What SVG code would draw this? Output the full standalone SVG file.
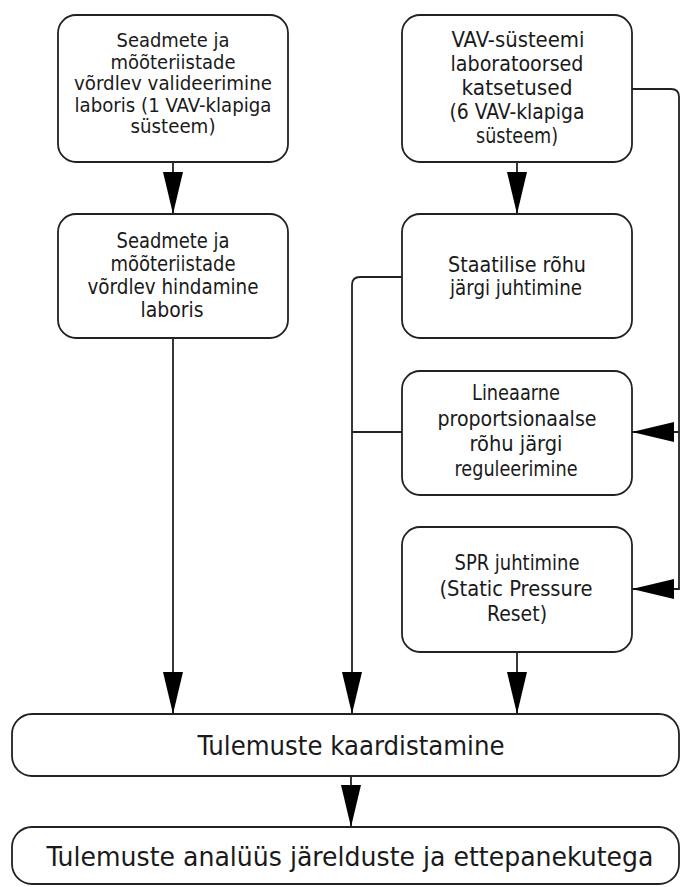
<svg xmlns="http://www.w3.org/2000/svg" width="681" height="887" viewBox="0 0 681 887">
  <style>
    .box { fill: #ffffff; stroke: #222222; stroke-width: 1.8; }
    .lbl { font-family: "DejaVu Sans Condensed", "DejaVu Sans", sans-serif; font-stretch: condensed; font-size: 21px; fill: #1a1a1a; text-anchor: middle; }
    .tight { font-size: 19px; }
    .big { font-size: 27px; }
    .wire { fill: none; stroke: #222222; stroke-width: 1.8; }
  </style>
  <defs>
    <marker id="head" markerUnits="userSpaceOnUse" viewBox="0 0 42 20" markerWidth="42" markerHeight="20" refX="42" refY="10" orient="auto">
      <path d="M0,0 L42,10 L0,20 Z" fill="#000000"/>
    </marker>
  </defs>
  <rect width="681" height="887" fill="#ffffff"/>

  <!-- connectors -->
  <g id="connectors">
    <path class="wire" d="M173,162 V214" marker-end="url(#head)"/>
    <path class="wire" d="M517,162 V214" marker-end="url(#head)"/>
    <path class="wire" d="M173,338 V714" marker-end="url(#head)"/>
    <path class="wire" d="M402,277 H360 Q352,277 352,285 V714" marker-end="url(#head)"/>
    <path class="wire" d="M402,432 H352"/>
    <path class="wire" d="M517,652 V714" marker-end="url(#head)"/>
    <path class="wire" d="M632,89 H671 Q679,89 679,97 V589 H632" marker-end="url(#head)"/>
    <path class="wire" d="M679,432 H632" marker-end="url(#head)"/>
    <path class="wire" d="M351,776 V827" marker-end="url(#head)"/>
  </g>

  <!-- left column -->
  <g id="validation">
    <rect class="box" x="58" y="15" width="230" height="147" rx="18"/>
    <text class="lbl tight" x="173" y="47" textLength="113" lengthAdjust="spacingAndGlyphs">Seadmete ja</text>
    <text class="lbl tight" x="173" y="68.5" textLength="125" lengthAdjust="spacingAndGlyphs">mõõteriistade</text>
    <text class="lbl tight" x="173" y="90" textLength="198" lengthAdjust="spacingAndGlyphs">võrdlev  valideerimine</text>
    <text class="lbl tight" x="173" y="111.5" textLength="197" lengthAdjust="spacingAndGlyphs">laboris (1 VAV-klapiga</text>
    <text class="lbl tight" x="173" y="133" textLength="85" lengthAdjust="spacingAndGlyphs">süsteem)</text>
  </g>
  <g id="assessment">
    <rect class="box" x="58" y="214" width="230" height="124" rx="18"/>
    <text class="lbl" x="173" y="248" textLength="113" lengthAdjust="spacingAndGlyphs">Seadmete ja</text>
    <text class="lbl" x="173" y="271" textLength="125" lengthAdjust="spacingAndGlyphs">mõõteriistade</text>
    <text class="lbl" x="173" y="294" textLength="171" lengthAdjust="spacingAndGlyphs">võrdlev hindamine</text>
    <text class="lbl" x="172" y="317" textLength="63" lengthAdjust="spacingAndGlyphs">laboris</text>
  </g>

  <!-- right column -->
  <g id="vav-tests">
    <rect class="box" x="402" y="15" width="230" height="147" rx="18"/>
    <text class="lbl" x="518" y="47" textLength="133" lengthAdjust="spacingAndGlyphs">VAV-süsteemi</text>
    <text class="lbl" x="517" y="71" textLength="133" lengthAdjust="spacingAndGlyphs">laboratoorsed</text>
    <text class="lbl" x="517" y="95" textLength="111" lengthAdjust="spacingAndGlyphs">katsetused</text>
    <text class="lbl" x="517" y="119" textLength="135" lengthAdjust="spacingAndGlyphs">(6 VAV-klapiga</text>
    <text class="lbl" x="517" y="143" textLength="82" lengthAdjust="spacingAndGlyphs">süsteem)</text>
  </g>
  <g id="static-pressure">
    <rect class="box" x="402" y="214" width="230" height="124" rx="18"/>
    <text class="lbl" x="517" y="272" textLength="138" lengthAdjust="spacingAndGlyphs">Staatilise rõhu</text>
    <text class="lbl" x="516" y="295" textLength="132" lengthAdjust="spacingAndGlyphs">järgi juhtimine</text>
  </g>
  <g id="proportional">
    <rect class="box" x="402" y="371" width="230" height="124" rx="18"/>
    <text class="lbl" x="516" y="400" textLength="88" lengthAdjust="spacingAndGlyphs">Lineaarne</text>
    <text class="lbl" x="517" y="426" textLength="159" lengthAdjust="spacingAndGlyphs">proportsionaalse</text>
    <text class="lbl" x="516" y="451" textLength="93" lengthAdjust="spacingAndGlyphs">rõhu järgi</text>
    <text class="lbl" x="516" y="476" textLength="123" lengthAdjust="spacingAndGlyphs">reguleerimine</text>
  </g>
  <g id="spr">
    <rect class="box" x="402" y="527" width="230" height="125" rx="18"/>
    <text class="lbl" x="517" y="570" textLength="125" lengthAdjust="spacingAndGlyphs">SPR juhtimine</text>
    <text class="lbl" x="516" y="596" textLength="153" lengthAdjust="spacingAndGlyphs">(Static Pressure</text>
    <text class="lbl" x="517" y="621" textLength="60" lengthAdjust="spacingAndGlyphs">Reset)</text>
  </g>

  <!-- bottom row -->
  <g id="mapping">
    <rect class="box" x="12" y="714" width="667" height="62" rx="20"/>
    <text class="lbl big" x="351" y="755" textLength="307" lengthAdjust="spacingAndGlyphs">Tulemuste kaardistamine</text>
  </g>
  <g id="analysis">
    <rect class="box" x="12" y="827" width="667" height="57" rx="20"/>
    <text class="lbl big" x="350" y="866" textLength="607" lengthAdjust="spacingAndGlyphs">Tulemuste analüüs järelduste ja ettepanekutega</text>
  </g>
</svg>
